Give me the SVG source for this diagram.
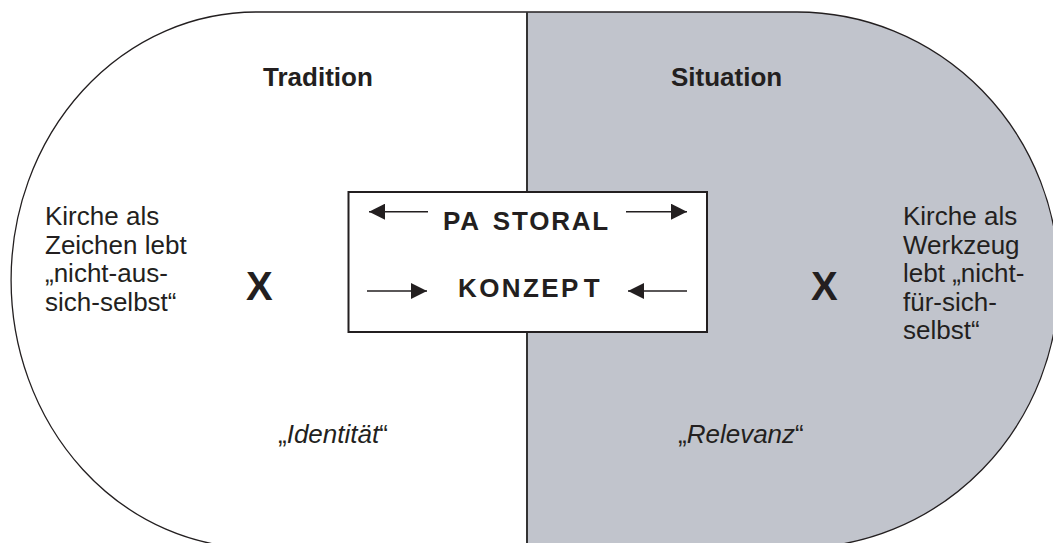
<svg xmlns="http://www.w3.org/2000/svg" width="1053" height="543" viewBox="0 0 1053 543">
<style>
text{font-family:"Liberation Sans",Arial,sans-serif;fill:#231f20}
.h{font-size:26px;font-weight:bold}
.t{font-size:26px}
.x{font-size:40px;font-weight:bold}
.i{font-size:26px}
.box{font-size:26px;font-weight:bold}
.ar{stroke:#231f20;stroke-width:1.4;fill:none}
</style>
<defs>
<marker id="ah" viewBox="0 0 10 10" refX="10" refY="5" markerWidth="17" markerHeight="16" markerUnits="userSpaceOnUse" orient="auto">
<path d="M0,0 L10,5 L0,10 Z" fill="#231f20"/>
</marker>
</defs>
<g id="background">
<path d="M527,12 H797 A262,268 0 0 1 797,548 H527 Z" fill="#c1c4cc"/>
<path d="M527,12 H256 A245,268 0 0 0 256,548 H527 Z" fill="#ffffff"/>
<path d="M256,12 H797 A262,268 0 0 1 797,548 H256 A245,268 0 0 1 256,12 Z" fill="none" stroke="#231f20" stroke-width="1.3"/>
<line x1="527" y1="12" x2="527" y2="543" stroke="#333333" stroke-width="2"/>
</g>
<g id="tradition"><text class="h" x="263" y="86">Tradition</text></g>
<g id="situation"><text class="h" x="671" y="86">Situation</text></g>
<g id="left-text">
<text class="t" x="45" y="225">Kirche als</text>
<text class="t" x="45" y="253.5">Zeichen lebt</text>
<text class="t" x="45" y="282">„nicht-aus-</text>
<text class="t" x="45" y="310.5">sich-selbst“</text>
</g>
<g id="left-x"><text class="x" x="246" y="300">X</text></g>
<g id="right-x"><text class="x" x="811" y="300">X</text></g>
<g id="right-text">
<text class="t" x="903" y="225">Kirche als</text>
<text class="t" x="903" y="253.5">Werkzeug</text>
<text class="t" x="903" y="282">lebt „nicht-</text>
<text class="t" x="903" y="310.5">für-sich-</text>
<text class="t" x="903" y="339">selbst“</text>
</g>
<g id="center-box">
<rect x="348.5" y="192" width="358.5" height="140" fill="#ffffff" stroke="#231f20" stroke-width="2"/>
<text class="box" x="443" y="230" letter-spacing="1.8">PA<tspan dx="12">STORAL</tspan></text>
<text class="box" x="458" y="297" letter-spacing="2.4">KONZEP<tspan dx="3">T</tspan></text>
</g>
<g id="connectors">
<line class="ar" x1="428" y1="211.7" x2="369" y2="211.7" marker-end="url(#ah)"/>
<line class="ar" x1="626" y1="211.7" x2="687" y2="211.7" marker-end="url(#ah)"/>
<line class="ar" x1="367" y1="291" x2="427" y2="291" marker-end="url(#ah)"/>
<line class="ar" x1="687" y1="291" x2="628" y2="291" marker-end="url(#ah)"/>
</g>
<g id="identitaet"><text class="i" x="278" y="443">„<tspan font-style="italic">Identität</tspan>“</text></g>
<g id="relevanz"><text class="i" x="678" y="443">„<tspan font-style="italic">Relevanz</tspan>“</text></g>
</svg>
